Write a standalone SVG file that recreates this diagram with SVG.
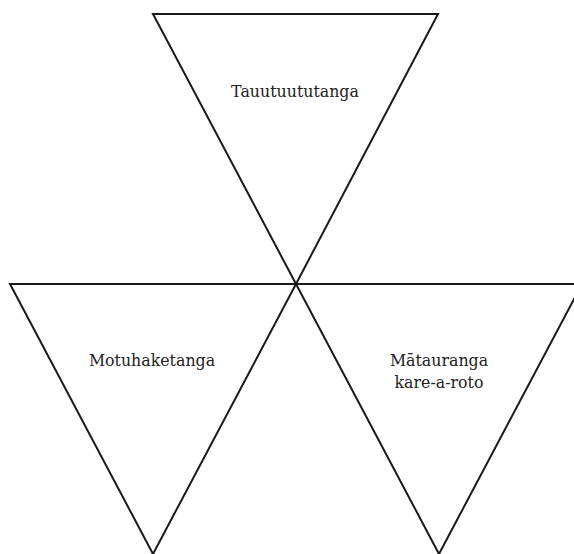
<svg xmlns="http://www.w3.org/2000/svg" width="574" height="554" viewBox="0 0 574 554">
<style>
.tri{fill:none;stroke:#1a1a1a;stroke-width:2;stroke-linejoin:miter}
.lbl{font-family:"DejaVu Serif","Liberation Serif",serif;font-size:15.8px;fill:#222;text-anchor:middle}
</style>
<rect width="574" height="554" fill="#fff"/>
<g id="top">
<polygon class="tri" points="153,14 438,14 296,284"/>
<text class="lbl" x="295" y="97">Tauutuututanga</text>
</g>
<g id="left">
<polygon class="tri" points="10,284 296,284 153,554"/>
<text class="lbl" x="152" y="366">Motuhaketanga</text>
</g>
<g id="right">
<polygon class="tri" points="296,284 582,284 439,554"/>
<text class="lbl" x="439" y="366">Mātauranga</text>
<text class="lbl" x="439" y="388">kare-a-roto</text>
</g>
</svg>
